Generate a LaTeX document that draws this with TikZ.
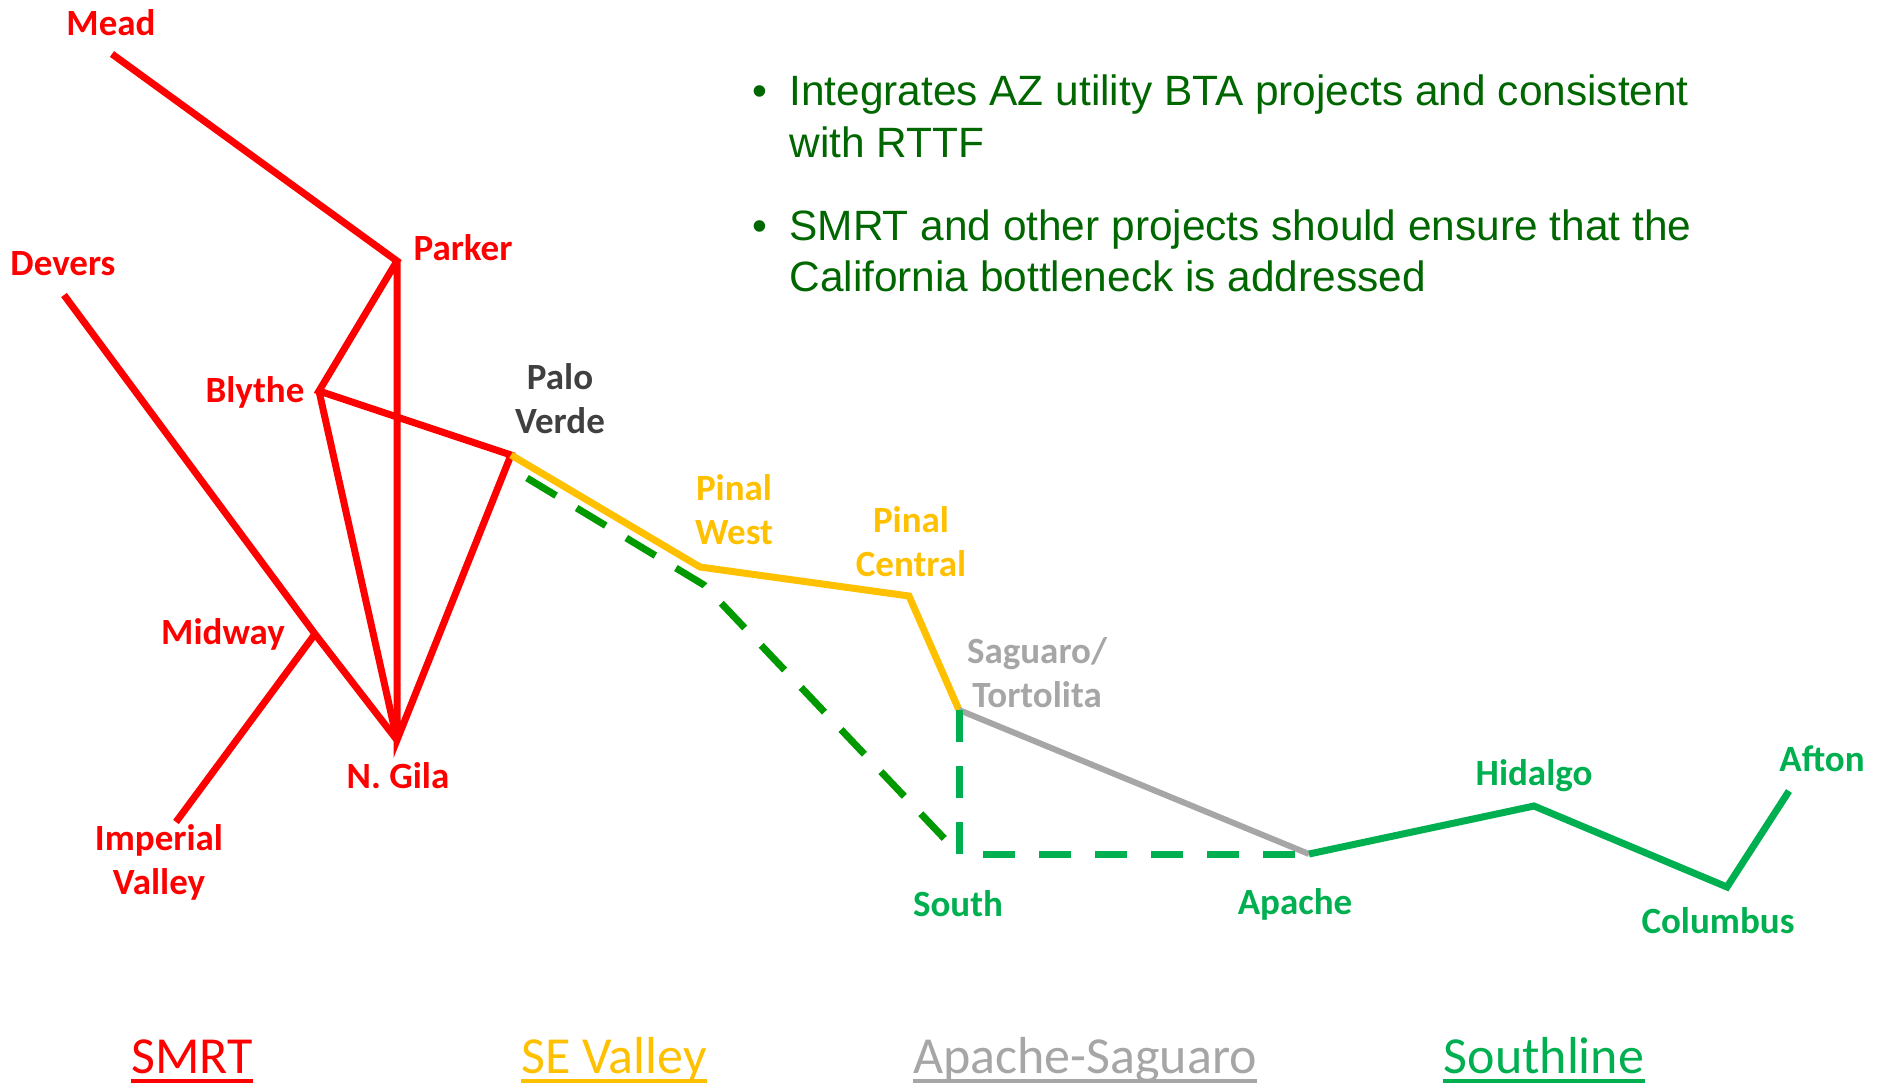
\documentclass[tikz,border=0pt]{standalone}
\usepackage{fontspec}
\setmainfont{Carlito}
\newfontfamily\bulletfont{Liberation Sans}
\usetikzlibrary{calc}
\usepackage{xcolor}
\definecolor{smrtColor}{HTML}{ff0000}
\definecolor{seColor}{HTML}{ffc000}
\definecolor{apsColor}{HTML}{a6a6a6}
\definecolor{slColor}{HTML}{00b050}
\definecolor{altColor}{HTML}{009a00}
\definecolor{pvColor}{HTML}{404040}
\definecolor{noteColor}{HTML}{006600}

\begin{document}
\begin{tikzpicture}[x=0.5pt,y=0.5pt,yscale=-1,
	lbl/.style={font=\bfseries\fontsize{18.5}{22}\selectfont, align=center, inner sep=0pt},
	legend/.style={font=\fontsize{26}{30}\selectfont, anchor=base, inner sep=0pt},
	note/.style={font=\bulletfont\fontsize{21.2}{26}\selectfont, text=noteColor, anchor=base west, inner sep=0pt},
	route/.style={line width=3.5pt}]
		\useasboundingbox (0,0) rectangle (1887,1083);

		% Stations
		\coordinate (mead)     at (112,54);
		\coordinate (parker)   at (397,261);
		\coordinate (devers)   at (64,295);
		\coordinate (blythe)   at (319,391);
		\coordinate (pv)       at (511,455);
		\coordinate (midway)   at (315,634);
		\coordinate (ngila)    at (397,740);
		\coordinate (imperial) at (176,822);
		\coordinate (pinalw)   at (700,567);
		\coordinate (pinalc)   at (909,596);
		\coordinate (saguaro)  at (959,710);
		\coordinate (south)    at (959,854);
		\coordinate (apache)   at (1309,854);
		\coordinate (hidalgo)  at (1534,806);
		\coordinate (columbus) at (1727,887);
		\coordinate (afton)    at (1789,791);
		\coordinate (altstart) at (527,478);
		\coordinate (altbend)  at (704,585);

		% SMRT
		\draw [route, smrtColor] (mead) -- (parker) -- (blythe) -- (pv) -- (ngila) -- (parker);
		\draw [route, smrtColor] (blythe) -- (ngila);
		\draw [route, smrtColor] (devers) -- (midway) -- (ngila);
		\draw [route, smrtColor] (midway) -- (imperial);

		% SE Valley
		\draw [route, seColor] (pv) -- (pinalw) -- (pinalc) -- (saguaro);

		% Apache-Saguaro
		\draw [apsColor, line width=3pt] (saguaro) -- (apache);

		% Southline
		\draw [route, altColor, dash pattern=on 17pt off 12pt] (altstart) -- (altbend) -- (south);
		\draw [route, slColor, dash pattern=on 16pt off 12pt] (saguaro) -- (south) -- (apache);
		\draw [route, slColor] (apache) -- (hidalgo) -- (columbus) -- (afton);

		% Station labels
		\node [lbl, text=smrtColor] (meadlbl)     at (111,23)   {Mead};
		\node [lbl, text=smrtColor] (parkerlbl)   at (463,248)  {Parker};
		\node [lbl, text=smrtColor] (deverslbl)   at (63,264)   {Devers};
		\node [lbl, text=smrtColor] (blythelbl)   at (255,392)  {Blythe};
		\node [lbl, text=smrtColor] (midwaylbl)   at (223,634)  {Midway};
		\node [lbl, text=smrtColor] (ngilalbl)    at (398,776)  {N. Gila};
		\node [lbl, text=smrtColor] (imperiallbl) at (159,862)  {Imperial\\Valley};
		\node [lbl, text=pvColor]   (pvlbl)       at (560,399)  {Palo\\Verde};
		\node [lbl, text=seColor]   (pinalwlbl)   at (734,510)  {Pinal\\West};
		\node [lbl, text=seColor]   (pinalclbl)   at (911,542)  {Pinal\\Central};
		\node [lbl, text=apsColor]  (saguarolbl)  at (1037,673) {Saguaro/\\Tortolita};
		\node [lbl, text=slColor]   (southlbl)    at (958,904)  {South};
		\node [lbl, text=slColor]   (apachelbl)   at (1295,904) {Apache};
		\node [lbl, text=slColor]   (hidalgolbl)  at (1534,776) {Hidalgo};
		\node [lbl, text=slColor]   (columbuslbl) at (1718,921) {Columbus};
		\node [lbl, text=slColor]   (aftonlbl)    at (1822,759) {Afton};

		% Notes
		\node [note, anchor=base] (dotone) at (760,105) {\textbullet};
		\node [note] (noteone)   at (789,105) {Integrates AZ utility BTA projects and consistent};
		\node [note] (noteonec)  at (789,157) {with RTTF};
		\node [note, anchor=base] (dottwo) at (760,240) {\textbullet};
		\node [note] (notetwo)   at (789,240) {SMRT and other projects should ensure that the};
		\node [note] (notetwoc)  at (789,291) {California bottleneck is addressed};

		% Legend
		\node [legend, text=smrtColor] (smrt) at (192,1073)  {SMRT};
		\node [legend, text=seColor]   (se)   at (614,1073)  {SE Valley};
		\node [legend, text=apsColor]  (aps)  at (1085,1073) {Apache-Saguaro};
		\node [legend, text=slColor]   (sl)   at (1544,1073) {Southline};
		\draw [smrtColor, line width=1.6pt] ($(smrt.base west)+(0,8)$) -- ($(smrt.base east)+(0,8)$);
		\draw [seColor,   line width=1.6pt] ($(se.base west)+(0,8)$)   -- ($(se.base east)+(0,8)$);
		\draw [apsColor,  line width=1.6pt] ($(aps.base west)+(0,8)$)  -- ($(aps.base east)+(0,8)$);
		\draw [slColor,   line width=1.6pt] ($(sl.base west)+(0,8)$)   -- ($(sl.base east)+(0,8)$);
	\end{tikzpicture}
\end{document}
